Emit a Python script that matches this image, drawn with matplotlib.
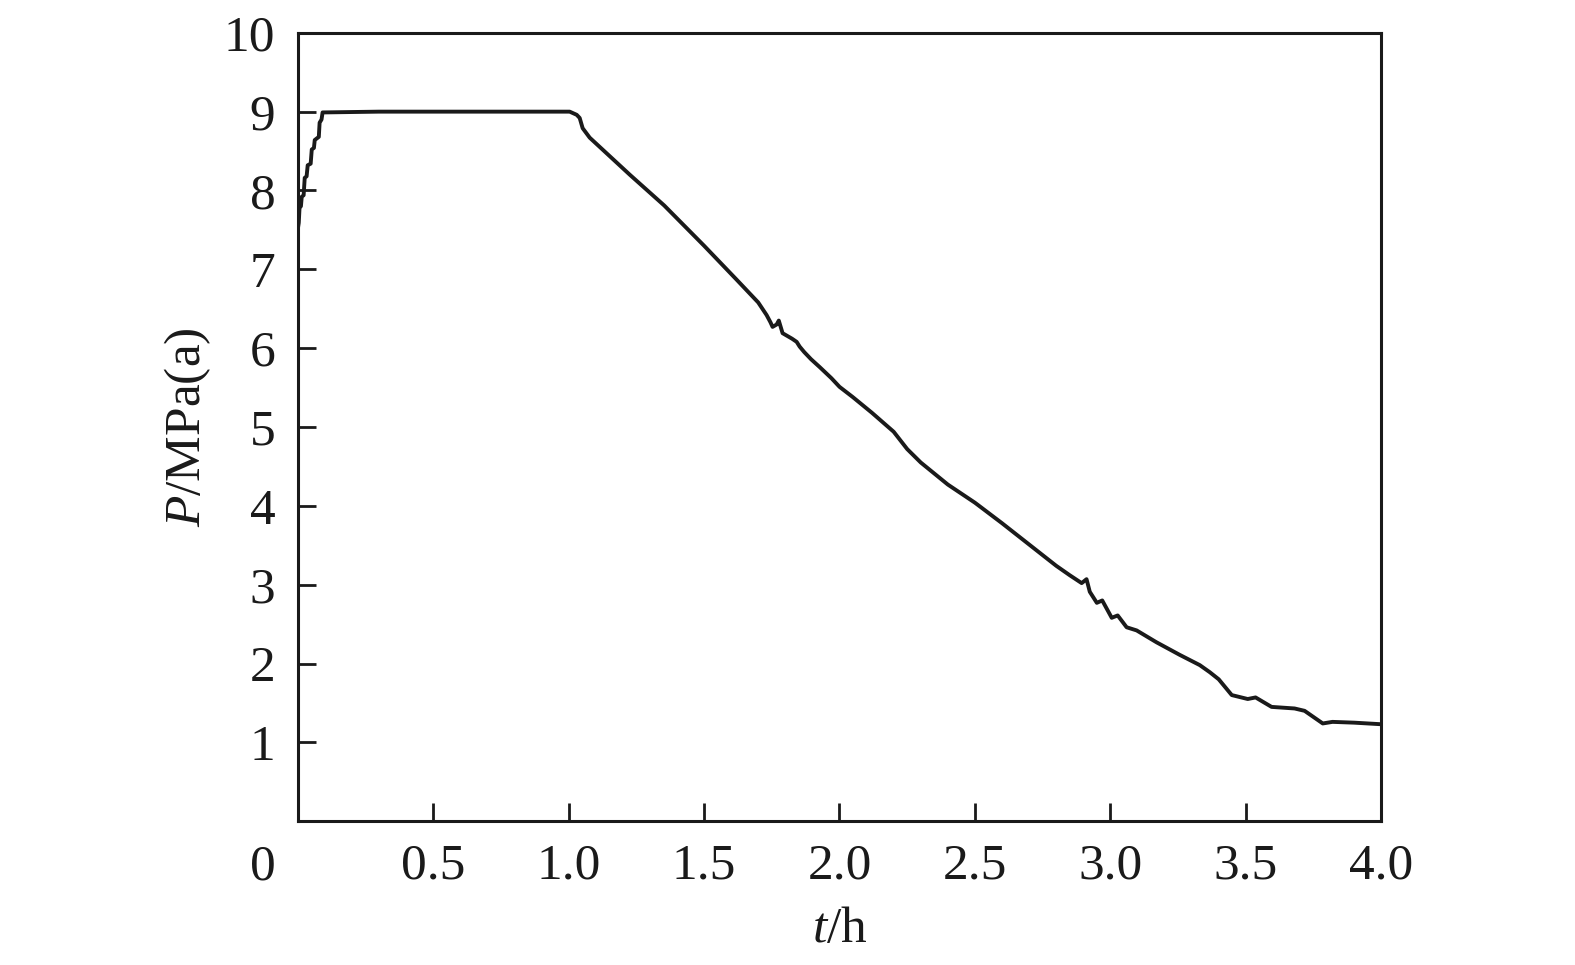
import matplotlib
matplotlib.use("Agg")
import matplotlib.pyplot as plt

plt.rcParams['font.family'] = ['Liberation Serif', 'DejaVu Serif']
plt.rcParams['mathtext.fontset'] = 'custom'
plt.rcParams['mathtext.rm'] = 'Liberation Serif'
plt.rcParams['mathtext.it'] = 'Liberation Serif:italic'

t_h = [0.0, 0.004, 0.007, 0.012, 0.015, 0.022, 0.026, 0.033, 0.037, 0.048, 0.052, 0.060, 0.063,
       0.078, 0.081, 0.088, 0.092, 0.3, 0.6, 0.9, 1.004, 1.03, 1.041, 1.052, 1.078,
       1.226, 1.353, 1.5, 1.62, 1.70, 1.731, 1.745, 1.753, 1.768, 1.776, 1.79, 1.81, 1.825,
       1.842, 1.853, 1.87, 1.895, 1.927, 1.97, 2.0, 2.049, 2.12, 2.2, 2.25, 2.3, 2.4,
       2.5, 2.6, 2.7, 2.8, 2.85, 2.894, 2.912, 2.924, 2.95, 2.97, 3.005, 3.027, 3.06,
       3.097, 3.17, 3.256, 3.33, 3.367, 3.40, 3.448, 3.507, 3.536, 3.595, 3.68,
       3.717, 3.784, 3.82, 3.9, 4.0]
p_mpa = [7.50, 7.59, 7.79, 7.80, 7.92, 7.94, 8.16, 8.18, 8.32, 8.34, 8.52, 8.54, 8.64,
         8.68, 8.86, 8.90, 8.99, 9.0, 9.0, 9.0, 9.0, 8.96, 8.92, 8.79, 8.67,
         8.20, 7.81, 7.30, 6.87, 6.58, 6.42, 6.33, 6.27, 6.30, 6.35, 6.19, 6.15, 6.12,
         6.08, 6.02, 5.95, 5.86, 5.76, 5.62, 5.51, 5.38, 5.18, 4.94, 4.72, 4.55, 4.27,
         4.04, 3.78, 3.51, 3.24, 3.12, 3.02, 3.07, 2.91, 2.77, 2.80, 2.58, 2.61, 2.46,
         2.42, 2.27, 2.11, 1.98, 1.89, 1.80, 1.60, 1.55, 1.57, 1.45, 1.43,
         1.40, 1.24, 1.26, 1.25, 1.23]

x_ticks = [0, 0.5, 1.0, 1.5, 2.0, 2.5, 3.0, 3.5, 4.0]
x_tick_labels = ['', '0.5', '1.0', '1.5', '2.0', '2.5', '3.0', '3.5', '4.0']
y_ticks = [1, 2, 3, 4, 5, 6, 7, 8, 9, 10]

fig = plt.figure(figsize=(15.75, 9.65), dpi=100)
ax = fig.add_axes([0.189, 0.149, 0.688, 0.817])
ax.plot(t_h, p_mpa, color='#1a1a1a', lw=2.8)
ax.set_xlim(0, 4.0)
ax.set_ylim(0, 10)
ax.set_xticks(x_ticks)
ax.set_xticklabels(x_tick_labels)
ax.set_yticks(y_ticks)
ax.tick_params(direction='in', length=13, width=2, labelsize=37, colors='#1a1a1a')
ax.tick_params(axis='x', pad=16)
ax.tick_params(axis='y', pad=16)
for s in ax.spines.values():
    s.set_linewidth(2.2)
    s.set_color('#1a1a1a')
ax.text(-0.032, -0.058, '0', transform=ax.transAxes, fontsize=37, ha='center', va='center',
        color='#1a1a1a')
ax.set_xlabel(r'$\it{t}$/h', fontsize=37, labelpad=12, color='#1a1a1a')
ax.set_ylabel(r'$\it{P}$/MPa(a)', fontsize=37, labelpad=8, color='#1a1a1a')
fig.savefig('out.png', dpi=100, facecolor='white')
